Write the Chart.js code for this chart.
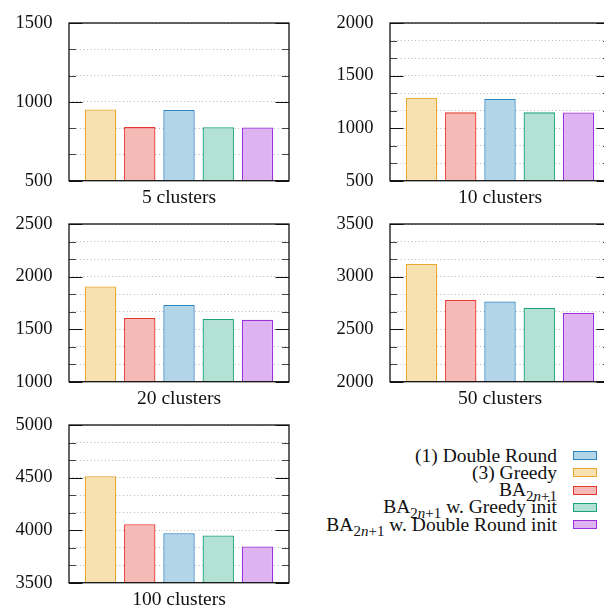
<!DOCTYPE html>
<html>
<head>
<meta charset="utf-8">
<script src="https://cdn.jsdelivr.net/npm/chart.js@4/dist/chart.umd.min.js"></script>
<style>
  html, body { margin: 0; padding: 0; background: #fff; overflow: hidden; }
  body { width: 604px; height: 606px; position: relative; }
  .panel { position: absolute; }
  #legend {
    position: absolute; right: 7px; top: 447px;
    font-family: 'Liberation Serif', serif; font-size: 19.5px; color: #111;
  }
  .row { display: flex; justify-content: flex-end; align-items: center; height: 17.25px; white-space: nowrap; }
  .row sub { font-size: 15px; vertical-align: -5px; line-height: 0; }
  .row i { font-style: italic; }
  .swatch { width: 22px; height: 7px; margin-left: 16px; border: 1.3px solid; }
</style>
</head>
<body>
<div id="legend"></div>
<script>
// panel groups and y ranges
const groups = ['5 clusters', '10 clusters', '20 clusters', '50 clusters', '100 clusters'];
const yMin = [500, 500, 1000, 2000, 3500];
const yMax = [1500, 2000, 2500, 3500, 5000];
const majorStep = 500;
const minorPerMajor = 3;

// series, in bar order
const seriesNames = ['(3) Greedy', 'BA2n+1', '(1) Double Round', 'BA2n+1 w. Greedy init', 'BA2n+1 w. Double Round init'];
const greedy = [952, 1286, 1906, 3120, 4512];
const baPlain = [840, 1150, 1606, 2777, 4056];
const doubleRound = [948, 1277, 1730, 2764, 3971];
const baGreedyInit = [839, 1150, 1596, 2704, 3949];
const baDoubleRoundInit = [838, 1149, 1590, 2653, 3845];
const seriesValues = [greedy, baPlain, doubleRound, baGreedyInit, baDoubleRoundInit];

// legend order (index into seriesNames)
const legendOrder = [2, 0, 1, 3, 4];

const fills = ['#f7e1b1', '#f5bab6', '#b3d5e8', '#b3e1d3', '#dfb3f1'];
const borders = ['#e9a72b', '#e8372f', '#2a86c3', '#1aa37c', '#9b30df'];

const TICK_FONT = { family: 'Liberation Serif', size: 18.5 };
const LABEL_FONT = { family: 'Liberation Serif', size: 19.5 };
const TEXT = '#111';

const isMajor = v => Math.abs(v / majorStep - Math.round(v / majorStep)) < 1e-6;

// frame + inward tick marks on both sides
const frameTicks = {
  id: 'frameTicks',
  afterDatasetsDraw(chart) {
    const { ctx, chartArea: a, scales: { y } } = chart;
    ctx.save();
    ctx.lineWidth = 1;
    y.ticks.forEach(t => {
      const major = isMajor(t.value);
      const len = major ? 13.5 : 7;
      const py = Math.round(y.getPixelForValue(t.value)) + 0.5;
      ctx.strokeStyle = major ? '#111' : '#444';
      ctx.beginPath();
      ctx.moveTo(a.left, py); ctx.lineTo(a.left + len, py);
      ctx.moveTo(a.right - len, py); ctx.lineTo(a.right, py);
      ctx.stroke();
    });
    ctx.strokeStyle = '#111';
    ctx.lineWidth = 1.3;
    ctx.strokeRect(a.left, a.top, a.right - a.left, a.bottom - a.top);
    ctx.restore();
  }
};

const CANVAS_H = 215;
const PLOT_TOP = 23;
const PLOT_H = 157.7;

Chart.defaults.devicePixelRatio = 1;

// [column, row] of each panel
const layout = [[0, 0], [1, 0], [0, 1], [1, 1], [0, 2]];
const rowTops = [0, 201.3, 402.3];

layout.forEach(([col, row], i) => {
  const width = col === 0 ? 300 : 320;
  const wrap = document.createElement('div');
  wrap.className = 'panel';
  wrap.style.left = (col === 0 ? 0 : 300) + 'px';
  wrap.style.top = rowTops[row] + 'px';
  const cv = document.createElement('canvas');
  cv.width = width; cv.height = CANVAS_H;
  cv.style.width = width + 'px'; cv.style.height = CANVAS_H + 'px';
  wrap.appendChild(cv);
  document.body.appendChild(wrap);
  const axisWidth = col === 0 ? 69 : 90;
  const rightPad = col === 0 ? 11 : 10;

  new Chart(cv, {
    type: 'bar',
    data: {
      labels: [groups[i]],
      datasets: seriesNames.map((name, s) => ({
        label: name,
        data: [seriesValues[s][i]],
        backgroundColor: fills[s],
        borderColor: borders[s],
        borderWidth: 1.3,
        borderSkipped: false,
        categoryPercentage: 0.892,
        barPercentage: 0.80
      }))
    },
    options: {
      responsive: false,
      animation: false,
      layout: { padding: { top: PLOT_TOP, right: rightPad, left: 0, bottom: 0 } },
      plugins: { legend: { display: false }, tooltip: { enabled: false } },
      scales: {
        x: {
          grid: { display: false },
          border: { display: false },
          ticks: { font: LABEL_FONT, color: TEXT, padding: -3 },
          afterFit: s => {
            s.height = CANVAS_H - PLOT_TOP - PLOT_H;
            s.paddingLeft = s.paddingRight = 0;
          }
        },
        y: {
          min: yMin[i],
          max: yMax[i],
          grid: { color: '#b5b5b5', lineWidth: 1, drawTicks: false },
          border: { display: false, dash: [1, 2.6] },
          ticks: {
            stepSize: majorStep / minorPerMajor,
            autoSkip: false,
            font: TICK_FONT,
            color: TEXT,
            padding: 16.5,
            callback: v => isMajor(v) ? Math.round(v) : ''
          },
          afterFit: s => {
            s.width = axisWidth;
            s.paddingTop = s.paddingBottom = 0;
          }
        }
      }
    },
    plugins: [frameTicks]
  });
});

// legend, drawn as text with subscripts
const legendEl = document.getElementById('legend');
legendOrder.forEach(s => {
  const row = document.createElement('div');
  row.className = 'row';
  const label = document.createElement('span');
  label.innerHTML = seriesNames[s].replace('BA2n+1', 'BA<sub>2<i>n</i>+1</sub>');
  const sw = document.createElement('div');
  sw.className = 'swatch';
  sw.style.background = fills[s];
  sw.style.borderColor = borders[s];
  row.appendChild(label);
  row.appendChild(sw);
  legendEl.appendChild(row);
});
</script>
</body>
</html>
